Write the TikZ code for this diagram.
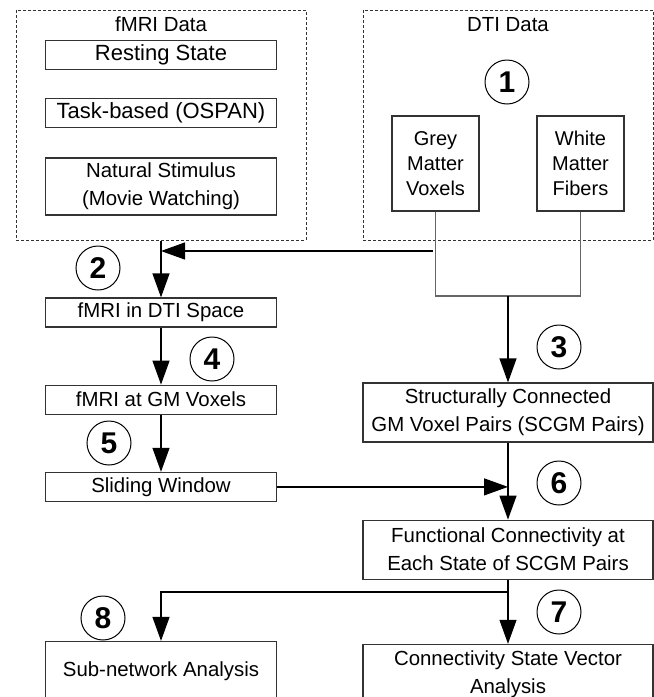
\documentclass[tikz,border=0pt]{standalone}
\usepackage{fontspec}
\setmainfont{Liberation Sans}
\usetikzlibrary{arrows.meta, positioning}
\definecolor{linegray}{HTML}{333333}
\definecolor{wiregray}{HTML}{666666}
\tikzset{
  stepbox/.style={
    rectangle, draw=linegray, line width=0.6pt,
    minimum width=115.5pt, minimum height=14.5pt, inner sep=0pt,
    text centered, align=center, font=\fontsize{10.2}{14}\selectfont,
  },
  bigbox/.style={stepbox, font=\fontsize{11}{14}\selectfont},
  widebox/.style={stepbox, minimum width=145pt, minimum height=29.5pt},
  tallbox/.style={stepbox, minimum width=43.5pt, minimum height=47.5pt,
    font=\fontsize{10}{12.5}\selectfont},
  groupbox/.style={
    rectangle, draw=linegray, line width=0.5pt,
    dash pattern=on 1.5pt off 1pt, inner sep=0pt,
    minimum width=145pt, minimum height=115pt,
  },
  title/.style={font=\fontsize{10.2}{12}\selectfont, inner sep=0pt},
  num/.style={
    circle, draw, line width=0.5pt, minimum size=22pt, inner sep=0pt,
    font=\fontsize{15}{15}\selectfont\bfseries,
  },
  arrow/.style={-{Triangle[length=12pt, width=8.5pt]}, line width=0.6pt},
  wire/.style={line width=0.6pt, color=wiregray},
}
\begin{document}
\begin{tikzpicture}[x=0.5pt, y=-0.5pt]
  \useasboundingbox (0,0) rectangle (654,697);

  % fMRI data
  \node[groupbox] (fmribox) at (161,125) {};
  \node[title] (fmrititle) at (161,24) {fMRI Data};
  \node[bigbox] (rest) at (161,55) {Resting State};
  \node[bigbox, below=14pt of rest] (task) {Task-based (OSPAN)};
  \node[stepbox, minimum height=28.5pt, below=14.5pt of task] (natural) {Natural Stimulus\\(Movie Watching)};

  % DTI data
  \node[groupbox] (dtibox) at (508,125) {};
  \node[title] (dtititle) at (508,25) {DTI Data};
  \node[num] (n1) at (507,82) {1};
  \node[tallbox] (grey) at (435.5,163.5) {Grey\\Matter\\Voxels};
  \node[tallbox] (white) at (580.5,163.5) {White\\Matter\\Fibers};

  % left column
  \node[stepbox] (dtispace) at (161,312.5) {fMRI in DTI Space};
  \node[stepbox, below=28.5pt of dtispace] (gmvox) {fMRI at GM Voxels};
  \node[stepbox, below=28.5pt of gmvox] (slide) {Sliding Window};
  \node[stepbox, minimum height=29.5pt] (subnet) at (161,671) {Sub-network Analysis};

  % right column
  \node[widebox] (scgm) at (508,412.5) {Structurally Connected\\GM Voxel Pairs (SCGM Pairs)};
  \node[widebox, below=38.5pt of scgm] (func) {Functional Connectivity at\\Each State of SCGM Pairs};
  \node[widebox, below=32pt of func] (csv) {Connectivity State Vector\\Analysis};

  % step numbers
  \node[num] (n2) at (98,268) {2};
  \node[num] (n3) at (559,347) {3};
  \node[num] (n4) at (212,359) {4};
  \node[num] (n5) at (109,443) {5};
  \node[num] (n6) at (559,483) {6};
  \node[num] (n7) at (559,612) {7};
  \node[num] (n8) at (103,618) {8};

  \coordinate (merge) at (508,296);
  \coordinate (tap) at (433,251);
  \coordinate (branch) at (508,592);

  \draw[wire] (grey.south) |- (white.south |- merge) -- (white.south);
  \draw[arrow] (merge) -- (scgm.north);
  \draw[arrow] (tap) -- (fmribox.south |- tap);
  \draw[arrow] (fmribox.south) -- (dtispace.north);
  \draw[arrow] (dtispace) -- (gmvox);
  \draw[arrow] (gmvox) -- (slide);
  \draw[arrow] (scgm) -- (func);
  \draw[arrow] (slide.east) -- (slide.east -| scgm.south);
  \draw[arrow] (func) -- (csv);
  \draw[arrow] (branch) -| (subnet.north);

\end{tikzpicture}
\end{document}
